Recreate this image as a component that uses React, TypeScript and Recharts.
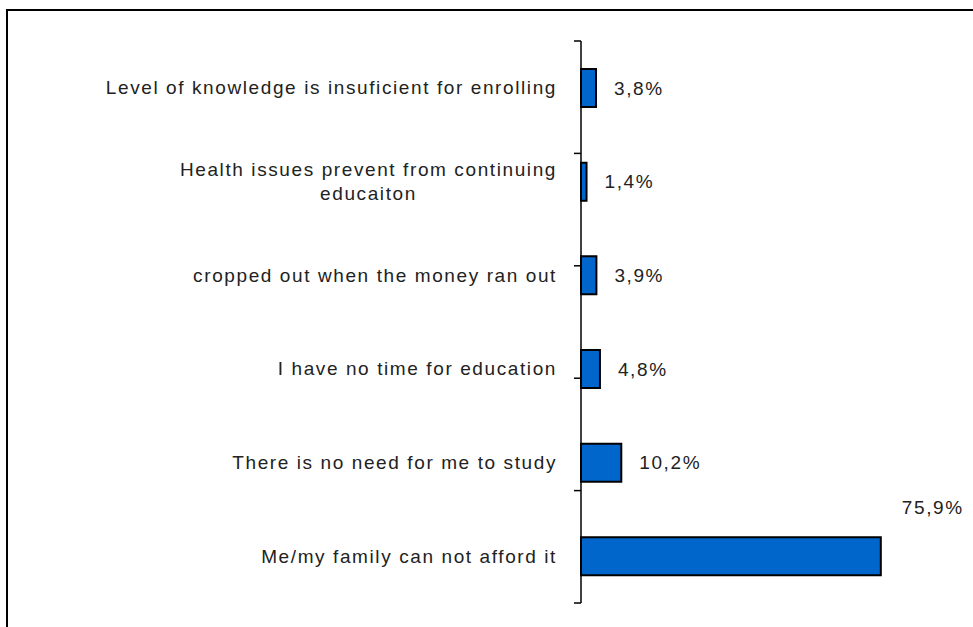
import { useLayoutEffect, useRef, useState } from "react";
import { Bar, BarChart, LabelList, XAxis, YAxis } from "recharts";

const reasons = [
  "Level of knowledge is insuficient for enrolling",
  "Health issues prevent from continuing\neducaiton",
  "cropped out when the money ran out",
  "I have no time for education",
  "There is no need for me to study",
  "Me/my family can not afford it",
];
const shares = [3.8, 1.4, 3.9, 4.8, 10.2, 75.9];
const boundaryTicks = [0, 1, 2, 3, 4, 5, 6];

const data = reasons.map((r, i) => ({ reason: r, share: shares[i] }));
const maxShare = Math.max(...shares);

const FONT = '"Liberation Sans", Arial, sans-serif';
const TEXT = "#222";
const textStyle = { fontFamily: FONT, fontSize: 19, letterSpacing: 1.6, fill: TEXT };

const fmtPct = (v: number) => `${v.toFixed(1).replace(".", ",")}%`;

// category label, right aligned; wrapped lines are centred under the first one
function ReasonTick(props: any) {
  const { x, y, payload } = props;
  const lines: string[] = String(payload.value).split("\n");
  const firstRef = useRef<SVGTextElement>(null);
  const [w, setW] = useState(0);
  useLayoutEffect(() => {
    if (firstRef.current) setW(firstRef.current.getComputedTextLength());
  }, [payload.value]);

  if (lines.length === 1) {
    return (
      <text x={x} y={y} textAnchor="end" dominantBaseline="central" style={textStyle}>
        {lines[0]}
      </text>
    );
  }
  const step = 24;
  const top = y - ((lines.length - 1) * step) / 2;
  return (
    <g>
      <text ref={firstRef} x={x} y={top} textAnchor="end" dominantBaseline="central" style={textStyle}>
        {lines[0]}
      </text>
      {lines.slice(1).map((l, i) => (
        <text
          key={i}
          x={x - w / 2}
          y={top + (i + 1) * step}
          textAnchor="middle"
          dominantBaseline="central"
          style={textStyle}
        >
          {l}
        </text>
      ))}
    </g>
  );
}

function ShareLabel(props: any) {
  const { x, y, width, height, value } = props;
  const big = value === maxShare;
  return (
    <text
      x={x + width + (big ? 21 : 18)}
      y={big ? y - 30 : y + height / 2}
      dominantBaseline="central"
      style={textStyle}
    >
      {fmtPct(value)}
    </text>
  );
}

export default function App() {
  return (
    <div
      style={{
        position: "absolute",
        left: 0,
        top: 0,
        width: 973,
        height: 627,
        overflow: "hidden",
        background: "#fff",
      }}
    >
      <div
        style={{
          position: "absolute",
          left: 6,
          top: 9,
          width: 1000,
          height: 700,
          border: "2px solid #000",
        }}
      />
      <div style={{ position: "absolute", left: 0, top: 0 }}>
        <BarChart
          width={973}
          height={627}
          data={data}
          layout="vertical"
          margin={{ top: 41, right: 76, bottom: 24, left: 0 }}
        >
          <XAxis type="number" dataKey="share" domain={[0, 80]} hide />
          <YAxis
            yAxisId="a-bounds"
            type="number"
            domain={[0, 6]}
            ticks={boundaryTicks}
            interval={0}
            width={1}
            tickSize={7}
            tickFormatter={() => ""}
            axisLine={{ stroke: "#000", strokeWidth: 1.5 }}
            tickLine={{ stroke: "#000", strokeWidth: 1.5 }}
          />
          <YAxis
            yAxisId="b-reasons"
            type="category"
            dataKey="reason"
            width={580}
            interval={0}
            axisLine={false}
            tickLine={false}
            tickSize={7}
            tickMargin={16}
            tick={<ReasonTick />}
          />
          <Bar
            yAxisId="b-reasons"
            dataKey="share"
            fill="#0066CC"
            stroke="#000"
            strokeWidth={2}
            barSize={38}
            isAnimationActive={false}
          >
            <LabelList dataKey="share" content={<ShareLabel />} />
          </Bar>
        </BarChart>
      </div>
    </div>
  );
}
